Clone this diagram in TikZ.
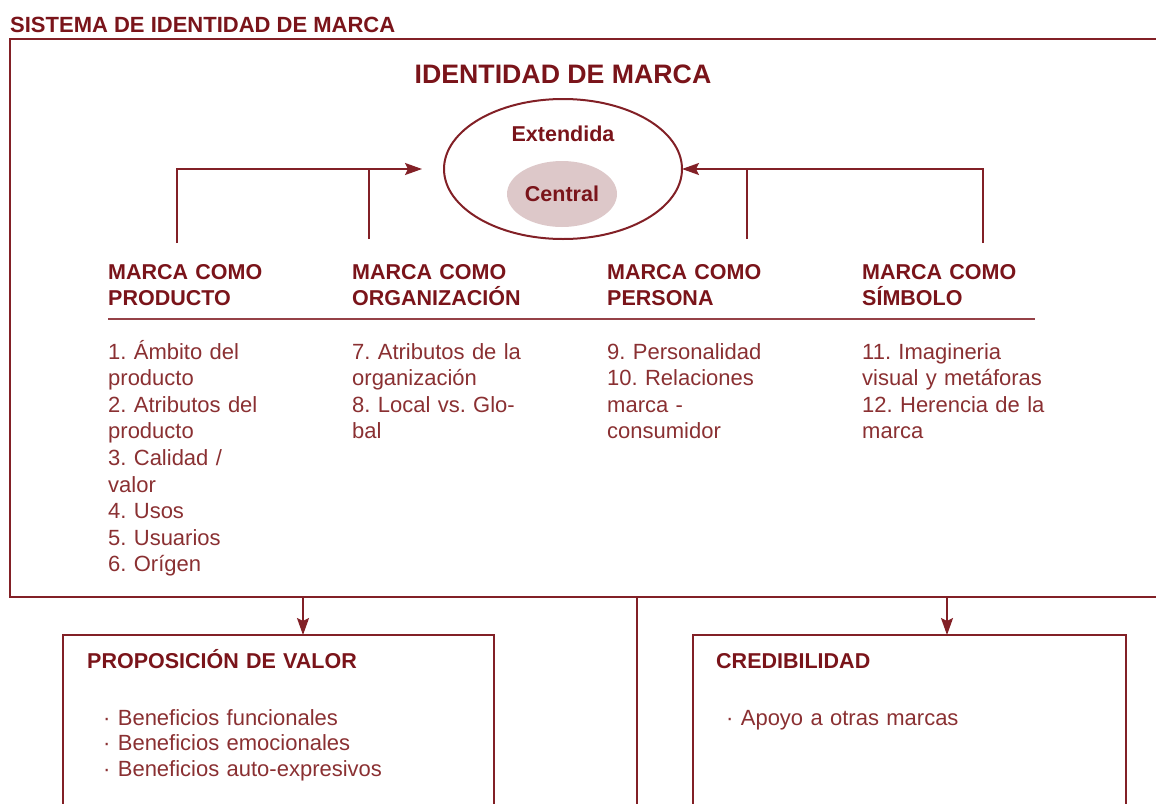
\documentclass[tikz,border=0pt]{standalone}
\usepackage{fontspec}
\setmainfont{Liberation Sans}
\frenchspacing
\usetikzlibrary{arrows.meta,shapes.geometric}
\definecolor{marca}{RGB}{122,20,26}
\definecolor{marcaline}{RGB}{130,32,38}
\definecolor{marcatext}{RGB}{138,48,50}
\definecolor{nucleo}{RGB}{221,200,201}
\begin{document}
\begin{tikzpicture}[x=1pt,y=-1pt,
	colhead/.style={anchor=base west, text width=390pt, align=left, inner sep=0pt, text=marca, font=\fontsize{21.5}{26}\selectfont\bfseries\frenchspacing},
	colitem/.style={anchor=base west, text width=230pt, align=left, inner sep=0pt, text=marcatext, font=\fontsize{22}{26.6}\selectfont\frenchspacing},
	boxitem/.style={colitem, text width=390pt, font=\fontsize{22}{25.5}\selectfont},
	conn/.style={draw=marcaline, line width=2pt},
	arr/.style={conn, -{Stealth[length=17pt,width=12pt,inset=3pt]}},
	markbox/.style={draw=marcaline, line width=2pt, anchor=north west, inner sep=0pt, outer sep=0pt}]
	\useasboundingbox (0,0) rectangle (1156,803);
	\clip (0,0) rectangle (1156,803);
	\node[anchor=base west, inner sep=0pt, text=marca, font=\fontsize{22}{26}\selectfont\bfseries] (titulo) at (10,32) {SISTEMA DE IDENTIDAD DE MARCA};
	\node[markbox, minimum width=1160pt, minimum height=558pt] (sistema) at (10,39) {};
	\node[anchor=base, inner sep=0pt, text=marca, font=\fontsize{26.7}{30}\selectfont\bfseries] (identidad) at (563,83) {IDENTIDAD DE MARCA};
	\node[ellipse, draw=marcaline, line width=2pt, minimum width=238pt, minimum height=140pt, inner sep=0pt, outer sep=0pt] (ext) at (563,169) {};
	\node[ellipse, fill=nucleo, minimum width=110pt, minimum height=66pt, inner sep=0pt, text=marca, font=\fontsize{21.5}{26}\selectfont\bfseries] (core) at (562,194) {Central};
	\node[anchor=base, inner sep=0pt, text=marca, font=\fontsize{21.5}{26}\selectfont\bfseries] (extlabel) at (563,141) {Extendida};
	\coordinate (f1) at (177,243);
	\coordinate (f2) at (369,239);
	\coordinate (f3) at (747,239);
	\coordinate (f4) at (983,243);
	\draw[arr] (f1) |- ([xshift=-22pt]ext.west);
	\draw[conn] (f2) -- (f2 |- ext.west);
	\draw[arr] (f4) |- (ext.east);
	\draw[conn] (f3) -- (f3 |- ext.east);
	\node[colhead] (producto) at (108,279) {MARCA COMO\\PRODUCTO};
	\node[colhead] (organizacion) at (352,279) {MARCA COMO\\ORGANIZACIÓN};
	\node[colhead] (persona) at (607,279) {MARCA COMO\\PERSONA};
	\node[colhead] (simbolo) at (862,279) {MARCA COMO\\SÍMBOLO};
	\draw[draw=marcaline!85, line width=1.3pt] (108,319) -- (1035,319);
	\node[colitem] (prodlist) at (108,359) {1. Ámbito del\\producto\\2. Atributos del\\producto\\3. Calidad /\\valor\\4. Usos\\5. Usuarios\\6. Orígen};
	\node[colitem] (orglist) at (352,359) {7. Atributos de la\\organización\\8. Local vs. Glo-\\bal};
	\node[colitem] (perlist) at (607,359) {9. Personalidad\\10. Relaciones\\marca -\\consumidor};
	\node[colitem] (simlist) at (862,359) {11. Imagineria\\visual y metáforas\\12. Herencia de la\\marca};
	\node[markbox, minimum width=431pt, minimum height=200pt] (valor) at (63,635) {};
	\node[markbox, minimum width=433pt, minimum height=200pt] (cred) at (693,635) {};
	\coordinate (b1) at (303,597);
	\coordinate (b2) at (947,597);
	\coordinate (m1) at (637,597);
	\coordinate (m2) at (637,810);
	\draw[arr] (b1) -- (b1 |- valor.north);
	\draw[arr] (b2) -- (b2 |- cred.north);
	\draw[conn] (m1) -- (m2);
	\node[colhead] (valorhead) at (87,668) {PROPOSICIÓN DE VALOR};
	\node[boxitem] (valorlist) at (103,725) {· Beneficios funcionales\\· Beneficios emocionales\\· Beneficios auto-expresivos};
	\node[colhead] (credhead) at (716,668) {CREDIBILIDAD};
	\node[boxitem] (credlist) at (726,725) {· Apoyo a otras marcas};
\end{tikzpicture}
\end{document}
